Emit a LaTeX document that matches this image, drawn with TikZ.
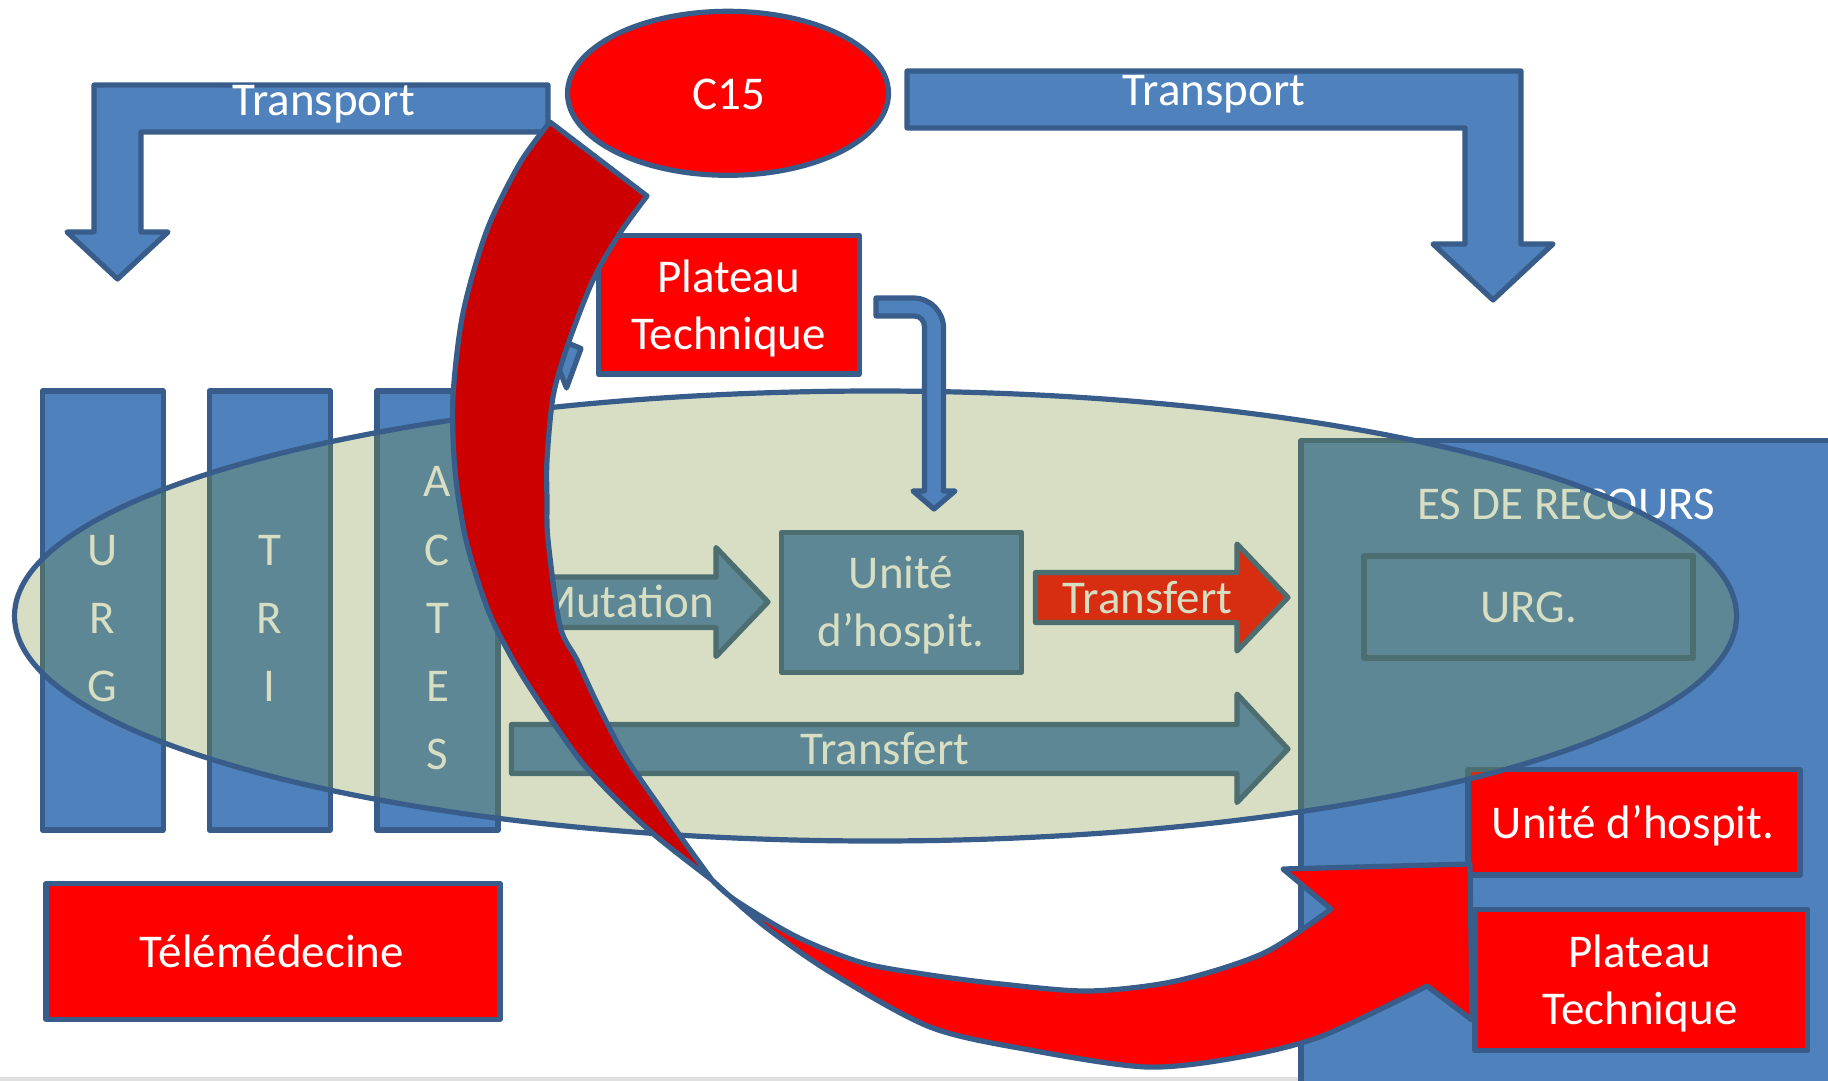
\documentclass[tikz,border=0pt]{standalone}
\usepackage{fontspec}
\setmainfont{Carlito}
\usetikzlibrary{shapes.geometric}
\definecolor{pblue}{HTML}{4F81BD}
\definecolor{pline}{HTML}{385D8A}
\definecolor{pred}{HTML}{FF0000}
\definecolor{pdark}{HTML}{CC0000}
\definecolor{polive}{RGB}{127,149,60}
\newcommand\slidefont{\fontsize{47}{57.5}\selectfont}
\begin{document}
\begin{tikzpicture}[x=1pt,y=-1pt,line join=round,
 bshape/.style={fill=pblue,draw=pline,line width=5.2pt},
 rshape/.style={fill=pred,draw=pline,line width=5.2pt},
 boxnode/.style={rectangle,inner sep=0pt,outer sep=0pt},
 lbl/.style={text=white,font=\slidefont,inner sep=0pt,anchor=base}]
\useasboundingbox (0,0) rectangle (1828,1081);
\clip (0,0) rectangle (1828,1081);
\fill[black!12] (0,1077) rectangle (1828,1081);

% Transport arrows
\draw[bshape] (548,85) -- (94,85) -- (94,232) -- (67,232) -- (117.5,279) -- (168,232) -- (141,232) -- (141,132) -- (548,132) -- cycle;
\node[lbl] (tl) at (323.5,115.4) {Transport};
\draw[bshape] (907,71) -- (1521,71) -- (1521,244) -- (1553,244) -- (1493,300) -- (1433,244) -- (1465,244) -- (1465,128) -- (907,128) -- cycle;
\node[lbl] (tr) at (1214,105) {Transport};

% C15
\node[ellipse,rshape,minimum width=321pt,minimum height=164pt,inner sep=0pt] (c15) at (728,93.3) {};
\node[lbl] (c15t) at (728.6,109.5) {C15};

% Plateau technique (top)
\node[boxnode,rshape,minimum width=261pt,minimum height=138.5pt] (pt1) at (729,304.75) {};
\node[lbl] (pt1a) at (728.6,292) {Plateau};
\node[lbl] (pt1b) at (728.6,349.5) {Technique};

% Columns
\node[boxnode,bshape,minimum width=121pt,minimum height=439pt] (colurg) at (102.75,610.5) {};
\node[boxnode,bshape,minimum width=121pt,minimum height=439pt] (coltri) at (269.75,610.5) {};
\node[boxnode,bshape,minimum width=121pt,minimum height=439pt] (colact) at (437.5,610.5) {};
\foreach \l [count=\i] in {U,R,G} \node[lbl] (u\i) at (102.75,496.7+68.3*\i) {\l};
\foreach \l [count=\i] in {T,R,I} \node[lbl] (t\i) at (269.75,496.7+68.3*\i) {\l};
\foreach \l [count=\i] in {A,C,T,E,S} \node[lbl] (a\i) at (437.5,428.4+68.3*\i) {\l};

% Telemedecine
\node[boxnode,rshape,minimum width=454pt,minimum height=136pt] (tele) at (273,951.5) {};
\node[lbl] (telet) at (272,967) {Télémédecine};

% ES de recours
\node[boxnode,bshape,minimum width=539pt,minimum height=649.5pt] (es) at (1570.5,765.25) {};
\node[lbl] (est) at (1566,519.3) {ES DE RECOURS};
\node[boxnode,bshape,minimum width=329pt,minimum height=102pt] (urg2) at (1528.5,607) {};
\node[lbl] (urg2t) at (1529,622) {URG.};

% Middle arrows and unit
\draw[bshape] (509,577) -- (716,577) -- (716,547.5) -- (768,602) -- (716,656.5) -- (716,627.5) -- (509,627.5) -- cycle;
\node[lbl,anchor=base east] (mut) at (714,617.5) {Mutation};
\node[boxnode,bshape,minimum width=240pt,minimum height=140pt] (uh) at (901.5,602.5) {};
\node[lbl] (uha) at (901,588.3) {Unité};
\node[lbl] (uhb) at (901,646) {d’hospit.};
\draw[rshape] (1035.5,572.5) -- (1237,572.5) -- (1237,544) -- (1288,597.5) -- (1237,651) -- (1237,622.5) -- (1035.5,622.5) -- cycle;
\node[lbl] (tf1) at (1147.5,613.3) {Transfert};
\draw[bshape] (511.5,724.5) -- (1237,724.5) -- (1237,694) -- (1288,749) -- (1237,802.5) -- (1237,773.5) -- (511.5,773.5) -- cycle;
\node[lbl,anchor=base west] (tf2) at (800,764) {Transfert};

% Lower right boxes
\node[boxnode,rshape,minimum width=332pt,minimum height=105.5pt] (uh2) at (1634,822.25) {};
\node[lbl] (uh2t) at (1633,838.3) {Unité d’hospit.};
\node[boxnode,rshape,minimum width=332.5pt,minimum height=141pt] (pt2) at (1641.25,980) {};
\node[lbl] (pt2a) at (1640,967.7) {Plateau};
\node[lbl] (pt2b) at (1640,1024) {Technique};

% Big translucent ellipse
\node[ellipse,draw=pline,line width=5.2pt,fill=polive,fill opacity=0.31,minimum width=1722pt,minimum height=450pt,inner sep=0pt] (zone) at (875.5,616) {};

% Small bent arrow
\draw[bshape] (876,298) -- (913.5,298) .. controls (930,298) and (943.5,311.5) .. (943.5,328) -- (943.5,491) -- (955,491) -- (934,509) -- (913,491) -- (924.5,491) -- (924.5,327) .. controls (924.5,321) and (920.5,316) .. (914.5,316) -- (876,316) -- cycle;
% small arrowhead
\draw[bshape] (545,333.5) -- (581,348.5) -- (566.5,388) -- cycle;

% Big curved arrow: dark part
\filldraw[fill=pdark,draw=pline,line width=5.2pt]
 plot[smooth] coordinates {(550,122) (520,163) (487,230) (463,313) (453,397) (455,470) (466,540) (488,610) (513,660) (540,703) (580,760) (617,800) (657,837) (712,880)}
 -- plot[smooth] coordinates {(712,880) (683,840) (657,803) (623,753) (597,703) (577,660) (560,626) (548,540) (547,500) (547,460) (553,397) (567,347) (593,280) (620,233) (647,196)}
 -- cycle;
% bright part
\filldraw[fill=pred,draw=pline,line width=5.2pt]
 plot[smooth] coordinates {(712,880) (735,900) (797,937) (863,963) (930,975) (1001,984) (1089,991) (1176,981) (1264,953) (1331,909)}
 -- (1283,869) -- (1470,864) -- (1472,1020) -- (1427,986)
 -- plot[smooth] coordinates {(1427,986) (1322,1036) (1240,1057) (1147,1067) (1030,1050) (930,1027) (830,972) (763,925) (712,880)}
 -- cycle;
\end{tikzpicture}
\end{document}
